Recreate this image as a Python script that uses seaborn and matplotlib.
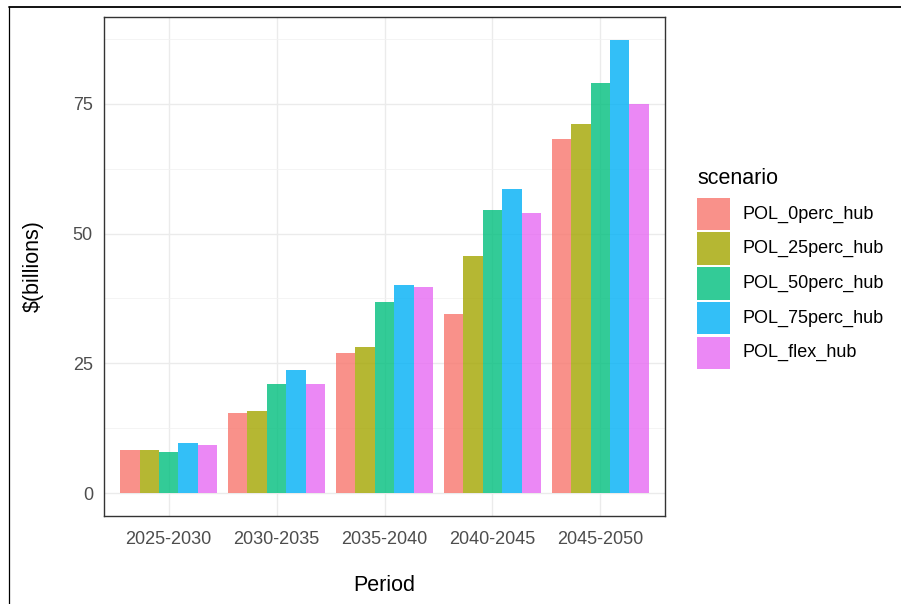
import matplotlib
matplotlib.use("Agg")
import matplotlib.pyplot as plt
from matplotlib.patches import Rectangle
from matplotlib.lines import Line2D
import numpy as np
import pandas as pd
import seaborn as sns

# Investment cost per period and hub scenario, in billions of dollars
periods = ["2025-2030", "2030-2035", "2035-2040", "2040-2045", "2045-2050"]
scenarios = ["POL_0perc_hub", "POL_25perc_hub", "POL_50perc_hub",
             "POL_75perc_hub", "POL_flex_hub"]
pol_0perc = [8.25, 15.5, 27.05, 34.6, 68.1]
pol_25perc = [8.25, 15.8, 28.2, 45.6, 71.0]
pol_50perc = [7.9, 21.05, 36.9, 54.6, 78.9]
pol_75perc = [9.65, 23.65, 40.1, 58.6, 87.3]
pol_flex = [9.35, 20.95, 39.8, 54.0, 74.9]
yticks = [0, 25, 50, 75]

series = [pol_0perc, pol_25perc, pol_50perc, pol_75perc, pol_flex]
df = pd.DataFrame({
    "Period": np.repeat([periods], len(scenarios), axis=0).ravel(),
    "scenario": np.repeat(scenarios, len(periods)),
    "cost": np.concatenate(series),
})

palette = ["#F8766D", "#A3A500", "#00BF7D", "#00B0F6", "#E76BF3"]
ALPHA = 0.8

sns.set_theme(style="white")
plt.rcParams["font.family"] = ["Liberation Sans", "DejaVu Sans"]

W, H = 901, 604
fig = plt.figure(figsize=(W / 100, H / 100), dpi=100)
fig.patch.set_facecolor("white")

# panel placement in pixels
px_l, px_r, px_t, px_b = 104, 665, 17, 516
ax = fig.add_axes([px_l / W, 1 - px_b / H, (px_r - px_l) / W, (px_b - px_t) / H])

sns.barplot(data=df, x="Period", y="cost", hue="scenario", order=periods,
            hue_order=scenarios, palette=palette, width=0.9, saturation=1,
            alpha=ALPHA, linewidth=0, errorbar=None, legend=False, ax=ax,
            zorder=3)

ymax = max(max(s) for s in series)
pad = 0.05 * ymax
ax.set_ylim(-pad, ymax + pad)
ax.set_xlim(-0.6, len(periods) - 0.4)

# grid: major and minor (ggplot2 theme_bw look)
ax.set_yticks(yticks)
ax.set_yticks([12.5, 37.5, 62.5, 87.5], minor=True)
ax.grid(True, which="major", color="#EBEBEB", linewidth=1.0, zorder=0)
ax.grid(True, which="minor", axis="y", color="#F2F2F2", linewidth=0.6, zorder=0)
ax.set_axisbelow(True)

for sp in ax.spines.values():
    sp.set_visible(True)
    sp.set_color("#333333")
    sp.set_linewidth(1.0)

ax.tick_params(axis="both", which="major", length=4, width=0.9,
               color="#333333", labelcolor="#4D4D4D", labelsize=13, pad=4)
ax.tick_params(axis="y", which="minor", length=0)
ax.tick_params(axis="x", pad=7)
ax.set_yticklabels([str(v) for v in yticks])

ax.set_xlabel("Period", fontsize=15.5, color="black", labelpad=19)
ax.set_ylabel("$(billions)", fontsize=15.5, color="black", labelpad=21)

# legend drawn at fixed pixel positions
fig.text(697 / W, 1 - 178 / H, "scenario", fontsize=15.5, color="black",
         ha="left", va="center")
key_w, key_h, pitch = 33, 32.5, 34.7
y0 = 197.7
for i, (lab, col) in enumerate(zip(scenarios, palette)):
    top = y0 + i * pitch
    fig.patches.append(Rectangle((697 / W, 1 - (top + key_h) / H), key_w / W,
                                 key_h / H, transform=fig.transFigure,
                                 facecolor=col, alpha=ALPHA, edgecolor="none"))
    fig.text(742 / W, 1 - (top + key_h / 2) / H, lab, fontsize=13,
             color="black", ha="left", va="center")

# frame lines along the top and left edges
fig.add_artist(Line2D([9 / W, 1], [1 - 6.5 / H, 1 - 6.5 / H],
                      transform=fig.transFigure, color="black", linewidth=1.3))
fig.add_artist(Line2D([9 / W, 9 / W], [0, 1 - 6.5 / H],
                      transform=fig.transFigure, color="black", linewidth=0.9))

fig.savefig("out.png", dpi=100, facecolor="white")
